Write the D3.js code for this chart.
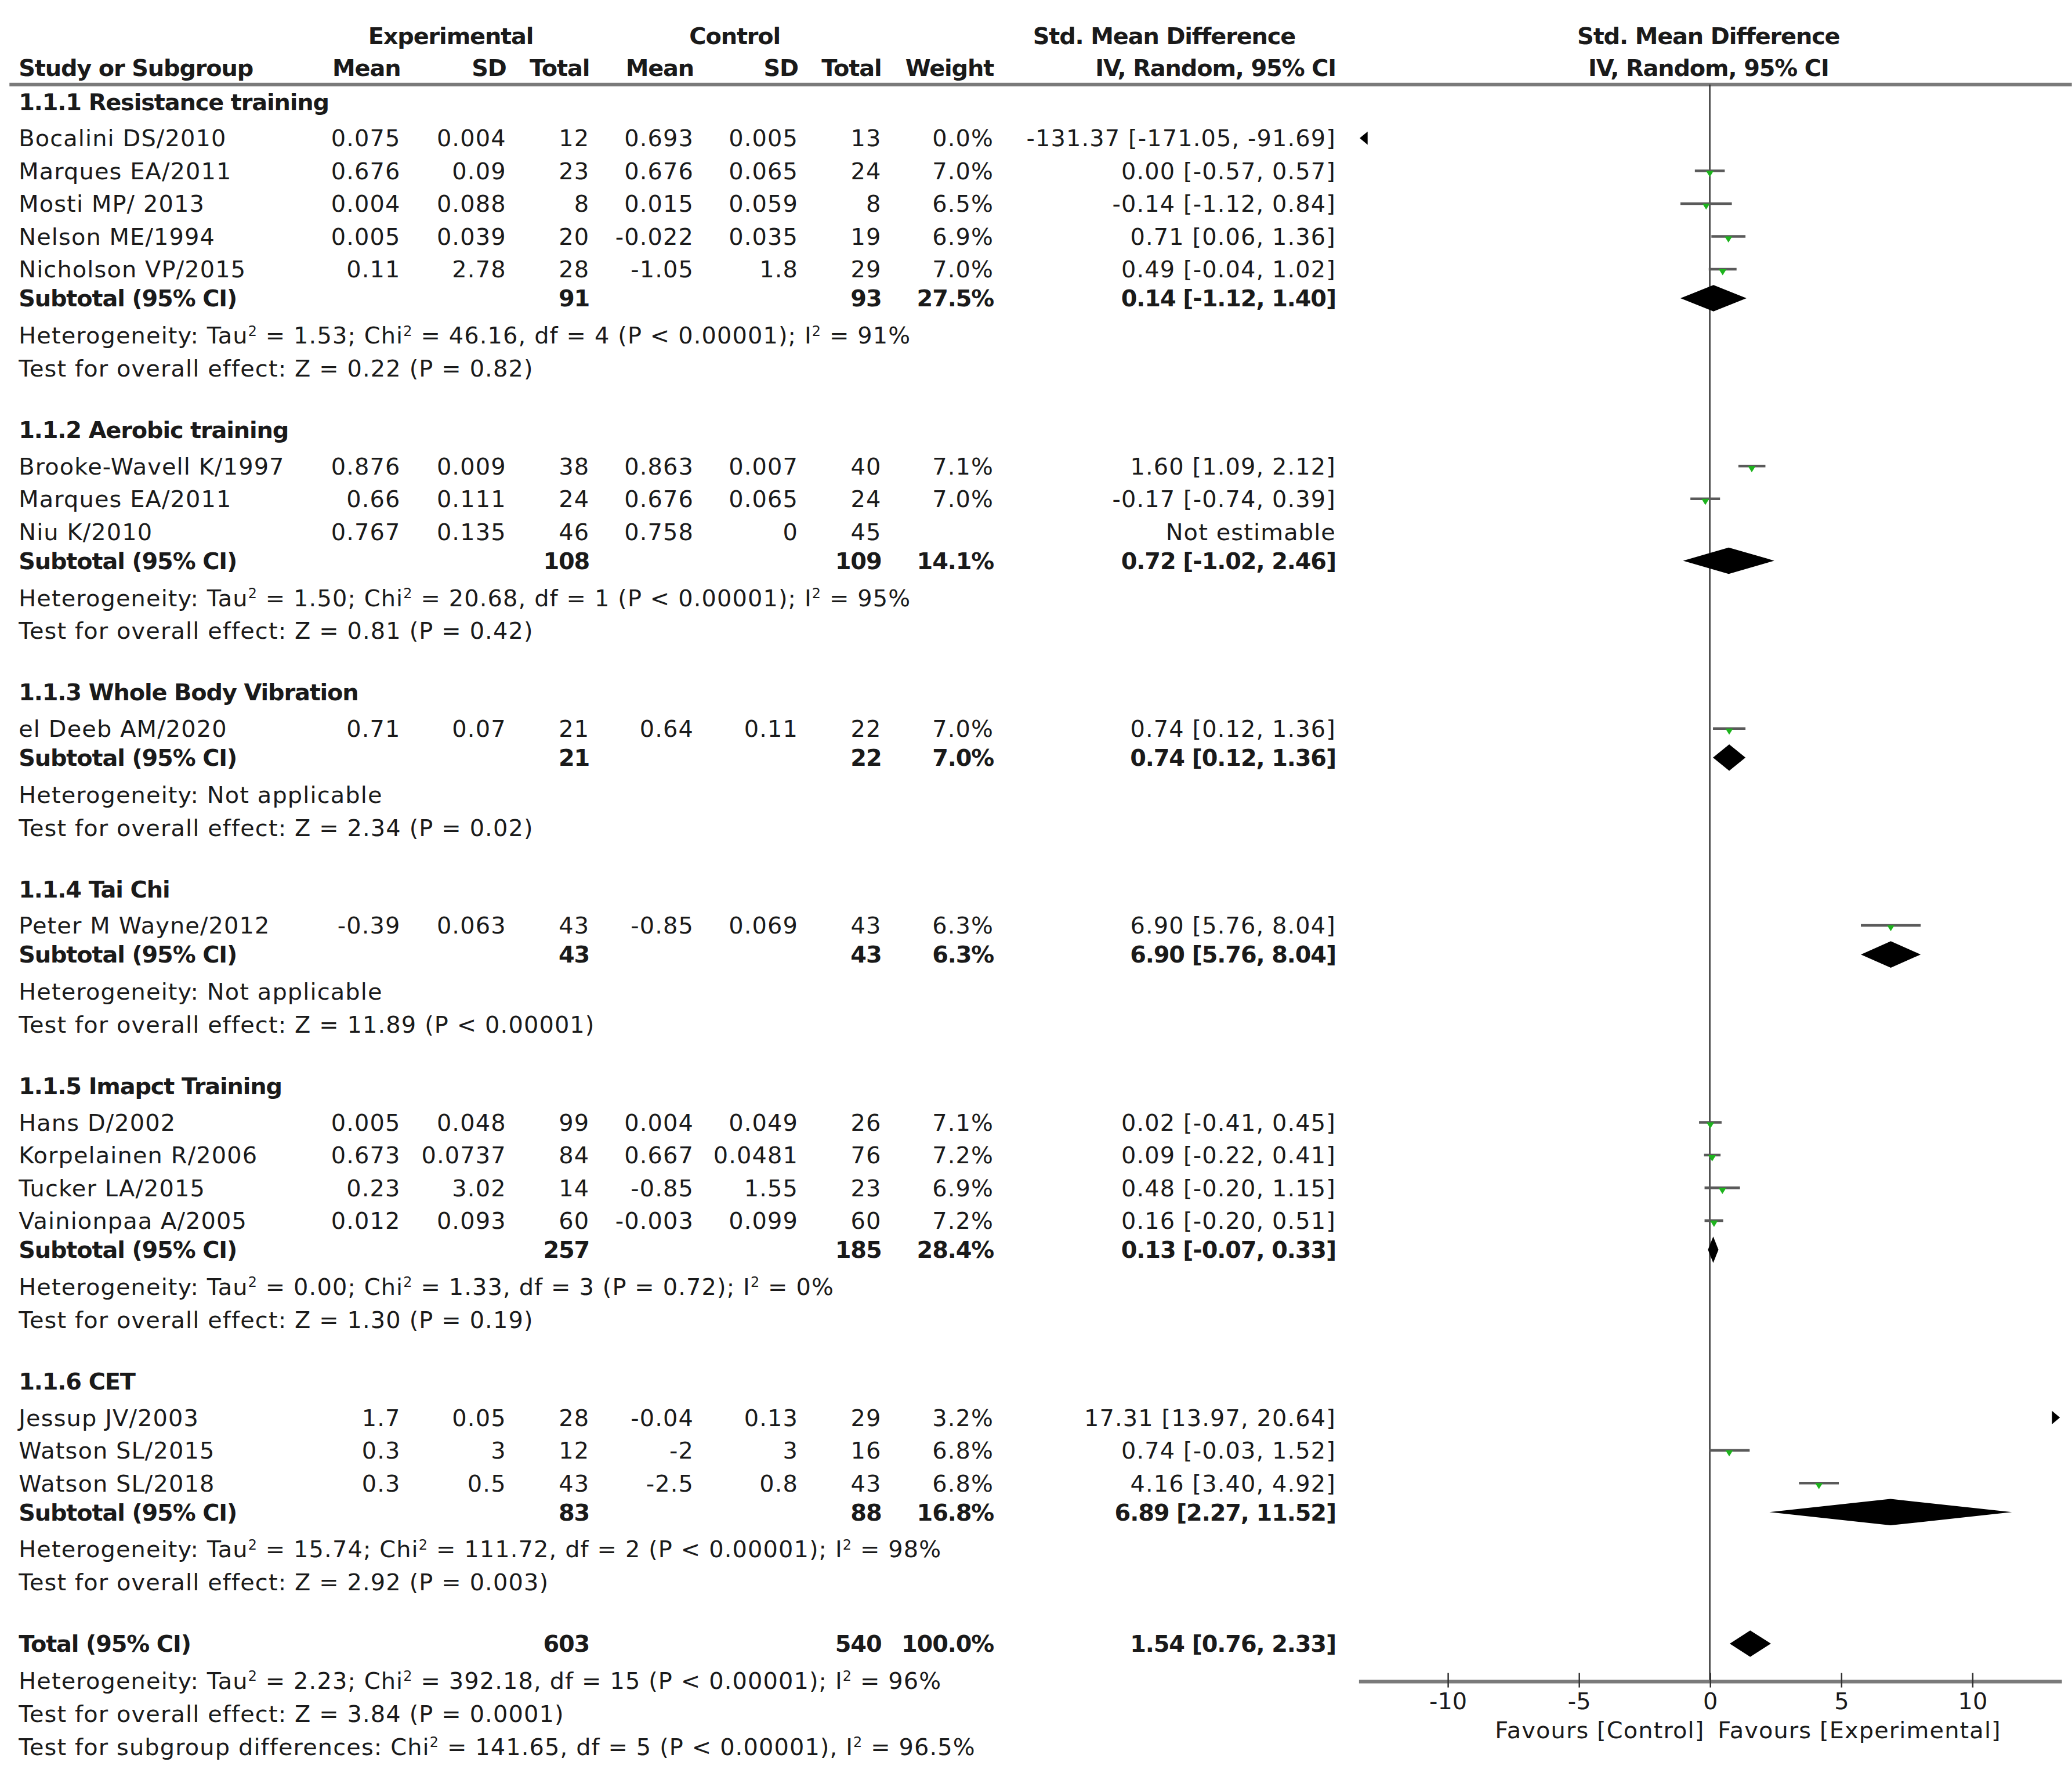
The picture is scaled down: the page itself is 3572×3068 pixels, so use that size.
<!DOCTYPE html>
<html>
<head>
<meta charset="utf-8">
<script src="https://cdn.jsdelivr.net/npm/d3@7"></script>
<style>
html, body { margin: 0; padding: 0; background: #fff; }
svg { display: block; }
text { font-family: 'DejaVu Sans', 'Open Sans', sans-serif; fill: #1a1a1a; }
</style>
</head>
<body>
<svg></svg>
<script>
const width = 3572;
const height = 3068;
// drawing units (the page is scaled up from these)
const vw = 1568;
const vh = 1347;

const groupNames = ['1.1.1 Resistance training', '1.1.2 Aerobic training', '1.1.3 Whole Body Vibration', '1.1.4 Tai Chi', '1.1.5 Imapct Training', '1.1.6 CET'];
const studyGroup = [0, 0, 0, 0, 0, 1, 1, 1, 2, 3, 4, 4, 4, 4, 5, 5, 5];
const studyNames = ['Bocalini DS/2010', 'Marques EA/2011', 'Mosti MP/ 2013', 'Nelson ME/1994', 'Nicholson VP/2015', 'Brooke-Wavell K/1997', 'Marques EA/2011', 'Niu K/2010', 'el Deeb AM/2020', 'Peter M Wayne/2012', 'Hans D/2002', 'Korpelainen R/2006', 'Tucker LA/2015', 'Vainionpaa A/2005', 'Jessup JV/2003', 'Watson SL/2015', 'Watson SL/2018'];
const expMean = [0.075, 0.676, 0.004, 0.005, 0.11, 0.876, 0.66, 0.767, 0.71, -0.39, 0.005, 0.673, 0.23, 0.012, 1.7, 0.3, 0.3];
const expSD = [0.004, 0.09, 0.088, 0.039, 2.78, 0.009, 0.111, 0.135, 0.07, 0.063, 0.048, 0.0737, 3.02, 0.093, 0.05, 3, 0.5];
const expN = [12, 23, 8, 20, 28, 38, 24, 46, 21, 43, 99, 84, 14, 60, 28, 12, 43];
const ctlMean = [0.693, 0.676, 0.015, -0.022, -1.05, 0.863, 0.676, 0.758, 0.64, -0.85, 0.004, 0.667, -0.85, -0.003, -0.04, -2, -2.5];
const ctlSD = [0.005, 0.065, 0.059, 0.035, 1.8, 0.007, 0.065, 0, 0.11, 0.069, 0.049, 0.0481, 1.55, 0.099, 0.13, 3, 0.8];
const ctlN = [13, 24, 8, 19, 29, 40, 24, 45, 22, 43, 26, 76, 23, 60, 29, 16, 43];
const weight = [0.0, 7.0, 6.5, 6.9, 7.0, 7.1, 7.0, null, 7.0, 6.3, 7.1, 7.2, 6.9, 7.2, 3.2, 6.8, 6.8];
const smd = [-131.37, 0.00, -0.14, 0.71, 0.49, 1.60, -0.17, null, 0.74, 6.90, 0.02, 0.09, 0.48, 0.16, 17.31, 0.74, 4.16];
const ciLow = [-171.05, -0.57, -1.12, 0.06, -0.04, 1.09, -0.74, null, 0.12, 5.76, -0.41, -0.22, -0.20, -0.20, 13.97, -0.03, 3.40];
const ciHigh = [-91.69, 0.57, 0.84, 1.36, 1.02, 2.12, 0.39, null, 1.36, 8.04, 0.45, 0.41, 1.15, 0.51, 20.64, 1.52, 4.92];

const subExpN = [91, 108, 21, 43, 257, 83];
const subCtlN = [93, 109, 22, 43, 185, 88];
const subWeight = [27.5, 14.1, 7.0, 6.3, 28.4, 16.8];
const subSmd = [0.14, 0.72, 0.74, 6.90, 0.13, 6.89];
const subLow = [-1.12, -1.02, 0.12, 5.76, -0.07, 2.27];
const subHigh = [1.40, 2.46, 1.36, 8.04, 0.33, 11.52];
const subHet = [
	'Heterogeneity: Tau² = 1.53; Chi² = 46.16, df = 4 (P < 0.00001); I² = 91%',
	'Heterogeneity: Tau² = 1.50; Chi² = 20.68, df = 1 (P < 0.00001); I² = 95%',
	'Heterogeneity: Not applicable',
	'Heterogeneity: Not applicable',
	'Heterogeneity: Tau² = 0.00; Chi² = 1.33, df = 3 (P = 0.72); I² = 0%',
	'Heterogeneity: Tau² = 15.74; Chi² = 111.72, df = 2 (P < 0.00001); I² = 98%',
];
const subEffect = [
	'Test for overall effect: Z = 0.22 (P = 0.82)',
	'Test for overall effect: Z = 0.81 (P = 0.42)',
	'Test for overall effect: Z = 2.34 (P = 0.02)',
	'Test for overall effect: Z = 11.89 (P < 0.00001)',
	'Test for overall effect: Z = 1.30 (P = 0.19)',
	'Test for overall effect: Z = 2.92 (P = 0.003)',
];

const totalExpN = 603;
const totalCtlN = 540;
const totalWeight = 100.0;
const totalSmd = [1.54, 0.76, 2.33];
const totalNotes = [
	'Heterogeneity: Tau² = 2.23; Chi² = 392.18, df = 15 (P < 0.00001); I² = 96%',
	'Test for overall effect: Z = 3.84 (P = 0.0001)',
	'Test for subgroup differences: Chi² = 141.65, df = 5 (P < 0.00001), I² = 96.5%',
];

const axisTicks = [-10, -5, 0, 5, 10];
const axisLabels = ['Favours [Control]', 'Favours [Experimental]'];

const svg = d3.select('svg')
	.attr('width', width)
	.attr('height', height)
	.attr('viewBox', `0 0 ${vw} ${vh}`);

const fs = 17.5;
const axisY = 1272;
const x = d3.scaleLinear().domain([-13.4, 13.4]).range([1028, 1560]);

// column right edges
const col = { expMean: 303, expSD: 383, expN: 446, ctlMean: 525, ctlSD: 604, ctlN: 667, weight: 752, ci: 1011 };

function txt(xp, yc, str, anchor, bold) {
	const t = svg.append('text')
		.attr('x', xp)
		.attr('y', yc + 6.3)
		.attr('text-anchor', anchor || 'start')
		.attr('font-size', fs)
		.attr('font-weight', bold ? 700 : 400)
		.attr('letter-spacing', bold ? -0.5 : 0.5);
	// raise the little 2 of Tau2 / Chi2 / I2
	str.split('²').forEach((part, k) => {
		if (k > 0) t.append('tspan').attr('dy', -6).attr('font-size', fs * 0.6).text('2');
		t.append('tspan').attr('dy', k > 0 ? 6 : 0).text(part);
	});
	return t;
}

const f2 = (v) => v.toFixed(2);
const ciText = (e, lo, hi) => `${f2(e)} [${f2(lo)}, ${f2(hi)}]`;

// header
txt(341, 27, 'Experimental', 'middle', true);
txt(556, 27, 'Control', 'middle', true);
txt(881, 27, 'Std. Mean Difference', 'middle', true);
txt(1293, 27, 'Std. Mean Difference', 'middle', true);
txt(14, 51, 'Study or Subgroup', 'start', true);
txt(col.expMean, 51, 'Mean', 'end', true);
txt(col.expSD, 51, 'SD', 'end', true);
txt(col.expN, 51, 'Total', 'end', true);
txt(col.ctlMean, 51, 'Mean', 'end', true);
txt(col.ctlSD, 51, 'SD', 'end', true);
txt(col.ctlN, 51, 'Total', 'end', true);
txt(col.weight, 51, 'Weight', 'end', true);
txt(col.ci, 51, 'IV, Random, 95% CI', 'end', true);
txt(1293, 51, 'IV, Random, 95% CI', 'middle', true);

svg.append('line')
	.attr('x1', 7).attr('x2', vw)
	.attr('y1', 64).attr('y2', 64)
	.attr('stroke', '#7a7a7a')
	.attr('stroke-width', 2.6);

// zero line
svg.append('line')
	.attr('x1', x(0)).attr('x2', x(0))
	.attr('y1', 64).attr('y2', axisY)
	.attr('stroke', '#333')
	.attr('stroke-width', 1.1);

// row layout
let y = 77;
const studyY = [];
const subY = [];
groupNames.forEach((g, gi) => {
	txt(14, y, g, 'start', true);
	const idx = studyGroup.map((d, i) => (d === gi ? i : -1)).filter((i) => i >= 0);
	idx.forEach((i, k) => {
		y += k === 0 ? 27.5 : 24.8;
		studyY[i] = y;
	});
	y += 22;
	subY[gi] = y;
	y += 28;
	txt(14, y, subHet[gi]);
	y += 25;
	txt(14, y, subEffect[gi]);
	y += 46.5;
});
const totalY = y;

// study rows
studyNames.forEach((name, i) => {
	const yc = studyY[i];
	txt(14, yc, name);
	txt(col.expMean, yc, String(expMean[i]), 'end');
	txt(col.expSD, yc, String(expSD[i]), 'end');
	txt(col.expN, yc, String(expN[i]), 'end');
	txt(col.ctlMean, yc, String(ctlMean[i]), 'end');
	txt(col.ctlSD, yc, String(ctlSD[i]), 'end');
	txt(col.ctlN, yc, String(ctlN[i]), 'end');
	if (weight[i] !== null) txt(col.weight, yc, weight[i].toFixed(1) + '%', 'end');
	txt(col.ci, yc, smd[i] === null ? 'Not estimable' : ciText(smd[i], ciLow[i], ciHigh[i]), 'end');
});

// subtotal rows
groupNames.forEach((g, gi) => {
	const yc = subY[gi];
	txt(14, yc, 'Subtotal (95% CI)', 'start', true);
	txt(col.expN, yc, String(subExpN[gi]), 'end', true);
	txt(col.ctlN, yc, String(subCtlN[gi]), 'end', true);
	txt(col.weight, yc, subWeight[gi].toFixed(1) + '%', 'end', true);
	txt(col.ci, yc, ciText(subSmd[gi], subLow[gi], subHigh[gi]), 'end', true);
});

// total rows
txt(14, totalY, 'Total (95% CI)', 'start', true);
txt(col.expN, totalY, String(totalExpN), 'end', true);
txt(col.ctlN, totalY, String(totalCtlN), 'end', true);
txt(col.weight, totalY, totalWeight.toFixed(1) + '%', 'end', true);
txt(col.ci, totalY, ciText(totalSmd[0], totalSmd[1], totalSmd[2]), 'end', true);
totalNotes.forEach((t, k) => txt(14, totalY + 28 + k * 25, t));

// forest marks
const [dMin, dMax] = x.domain();
const plot = svg.append('g');

studyNames.forEach((name, i) => {
	if (smd[i] === null) return;
	const yc = studyY[i];
	if (ciHigh[i] < dMin) {
		const xa = x(dMin) + 1;
		plot.append('path')
			.attr('d', `M${xa},${yc} L${xa + 6},${yc - 5} L${xa + 6},${yc + 5} Z`)
			.attr('fill', '#000');
		return;
	}
	if (ciLow[i] > dMax) {
		const xa = x(dMax) - 1;
		plot.append('path')
			.attr('d', `M${xa},${yc} L${xa - 6},${yc - 5} L${xa - 6},${yc + 5} Z`)
			.attr('fill', '#000');
		return;
	}
	plot.append('line')
		.attr('x1', x(Math.max(ciLow[i], dMin)))
		.attr('x2', x(Math.min(ciHigh[i], dMax)))
		.attr('y1', yc).attr('y2', yc)
		.attr('stroke', '#5a5a5a')
		.attr('stroke-width', 2);
	const cx = x(smd[i]);
	const s = 1.1 * Math.sqrt(weight[i]);
	plot.append('path')
		.attr('d', `M${cx - s},${yc} L${cx + s},${yc} L${cx},${yc + s * 1.6} Z`)
		.attr('fill', '#1db31d');
});

function diamond(yc, e, lo, hi) {
	plot.append('path')
		.attr('d', `M${x(lo)},${yc} L${x(e)},${yc - 10} L${x(hi)},${yc} L${x(e)},${yc + 10} Z`)
		.attr('fill', '#000');
}
groupNames.forEach((g, gi) => diamond(subY[gi], subSmd[gi], subLow[gi], subHigh[gi]));
diamond(totalY, totalSmd[0], totalSmd[1], totalSmd[2]);

// axis
const axis = svg.append('g')
	.attr('transform', `translate(0,${axisY})`)
	.call(d3.axisBottom(x).tickValues(axisTicks).tickSizeOuter(0).tickFormat((d) => String(d)));
axis.select('.domain')
	.attr('stroke', '#7a7a7a')
	.attr('stroke-width', 2.8);
axis.selectAll('.tick line')
	.attr('y1', -6).attr('y2', 5)
	.attr('stroke', '#333')
	.attr('stroke-width', 1.1);
axis.selectAll('.tick text')
	.attr('y', 9)
	.attr('font-size', fs)
	.attr('font-family', "'DejaVu Sans', sans-serif")
	.attr('fill', '#1a1a1a');

txt(x(0) - 4, 1309, axisLabels[0], 'end');
txt(x(0) + 6, 1309, axisLabels[1], 'start');
</script>
</body>
</html>
